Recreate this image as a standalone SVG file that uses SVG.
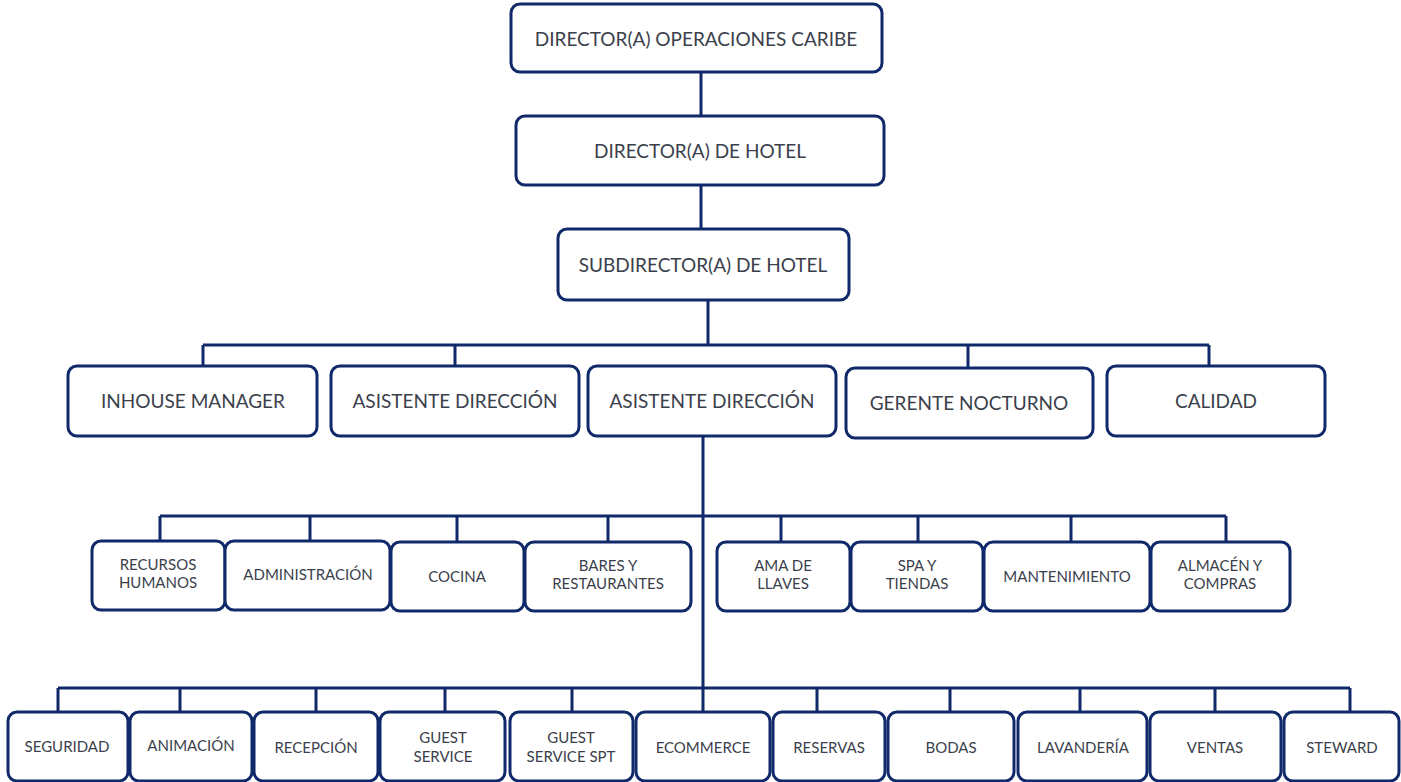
<svg xmlns="http://www.w3.org/2000/svg" width="1401" height="782" viewBox="0 0 1401 782">
<style>
.b{fill:#fff;stroke:#10296a;stroke-width:3}
.c{fill:none;stroke:#10296a;stroke-width:3}
text{font-family:"Lato","Liberation Sans",sans-serif;fill:#3b3f4c;text-anchor:middle}
.t1{font-size:19px}
.t2{font-size:15px}
</style>
<rect width="1401" height="782" fill="#fff"/>
<g id="connectors">
<path class="c" d="M701 72V116M701 185V229M708 300V345M203 345H1209M203 345V366M455 345V366M968 345V368M1209 345V352M1209 345V366"/>
<path class="c" d="M703 436V688M160 516H1226M160 516V541M310 516V541M457 516V541M608 516V541M781 516V541M918 516V541M1071 516V541M1226 516V541"/>
<path class="c" d="M58 688H1350M58 688V712M180 688V712M316 688V712M445 688V712M572 688V712M703 688V712M817 688V712M950 688V712M1080 688V712M1215 688V712M1350 688V712"/>
</g>
<g id="n1"><rect class="b" x="511" y="4" width="371" height="68" rx="9"/><text class="t1" x="696" y="46">DIRECTOR(A) OPERACIONES CARIBE</text></g>
<g id="n2"><rect class="b" x="516" y="116" width="368" height="69" rx="9"/><text class="t1" x="700" y="158">DIRECTOR(A) DE HOTEL</text></g>
<g id="n3"><rect class="b" x="558" y="229" width="291" height="71" rx="9"/><text class="t1" x="703" y="272">SUBDIRECTOR(A) DE HOTEL</text></g>
<g id="n4"><rect class="b" x="68" y="366" width="249" height="70" rx="9"/><text class="t1" x="193" y="408">INHOUSE MANAGER</text></g>
<g id="n5"><rect class="b" x="331" y="366" width="248" height="70" rx="9"/><text class="t1" x="455" y="408">ASISTENTE DIRECCIÓN</text></g>
<g id="n6"><rect class="b" x="588" y="366" width="248" height="70" rx="9"/><text class="t1" x="712" y="408">ASISTENTE DIRECCIÓN</text></g>
<g id="n7"><rect class="b" x="846" y="368" width="247" height="70" rx="9"/><text class="t1" x="969" y="410">GERENTE NOCTURNO</text></g>
<g id="n8"><rect class="b" x="1107" y="366" width="218" height="70" rx="9"/><text class="t1" x="1216" y="408">CALIDAD</text></g>
<g id="n9"><rect class="b" x="92" y="541" width="133" height="69" rx="9"/><text class="t2" x="158" y="570">RECURSOS</text><text class="t2" x="158" y="588">HUMANOS</text></g>
<g id="n10"><rect class="b" x="225" y="541" width="165" height="69" rx="9"/><text class="t2" x="308" y="580">ADMINISTRACIÓN</text></g>
<g id="n11"><rect class="b" x="391" y="542" width="133" height="69" rx="9"/><text class="t2" x="457" y="582">COCINA</text></g>
<g id="n12"><rect class="b" x="525" y="542" width="166" height="69" rx="9"/><text class="t2" x="608" y="571">BARES Y</text><text class="t2" x="608" y="589">RESTAURANTES</text></g>
<g id="n13"><rect class="b" x="717" y="542" width="133" height="69" rx="9"/><text class="t2" x="783" y="571">AMA DE</text><text class="t2" x="783" y="589">LLAVES</text></g>
<g id="n14"><rect class="b" x="851" y="542" width="132" height="69" rx="9"/><text class="t2" x="917" y="571">SPA Y</text><text class="t2" x="917" y="589">TIENDAS</text></g>
<g id="n15"><rect class="b" x="984" y="542" width="166" height="69" rx="9"/><text class="t2" x="1067" y="582">MANTENIMIENTO</text></g>
<g id="n16"><rect class="b" x="1151" y="542" width="139" height="69" rx="9"/><text class="t2" x="1220" y="571">ALMACÉN Y</text><text class="t2" x="1220" y="589">COMPRAS</text></g>
<g id="n17"><rect class="b" x="8" y="712" width="120" height="69" rx="9"/><text class="t2" x="67" y="752">SEGURIDAD</text></g>
<g id="n18"><rect class="b" x="130" y="712" width="122" height="69" rx="9"/><text class="t2" x="191" y="751">ANIMACIÓN</text></g>
<g id="n19"><rect class="b" x="254" y="712" width="124" height="69" rx="9"/><text class="t2" x="316" y="753">RECEPCIÓN</text></g>
<g id="n20"><rect class="b" x="380" y="712" width="125" height="69" rx="9"/><text class="t2" x="443" y="743">GUEST</text><text class="t2" x="443" y="762">SERVICE</text></g>
<g id="n21"><rect class="b" x="510" y="712" width="123" height="69" rx="9"/><text class="t2" x="571" y="743">GUEST</text><text class="t2" x="571" y="762">SERVICE SPT</text></g>
<g id="n22"><rect class="b" x="636" y="712" width="134" height="69" rx="9"/><text class="t2" x="703" y="753">ECOMMERCE</text></g>
<g id="n23"><rect class="b" x="773" y="712" width="112" height="69" rx="9"/><text class="t2" x="829" y="753">RESERVAS</text></g>
<g id="n24"><rect class="b" x="888" y="712" width="126" height="69" rx="9"/><text class="t2" x="951" y="753">BODAS</text></g>
<g id="n25"><rect class="b" x="1018" y="712" width="129" height="69" rx="9"/><text class="t2" x="1083" y="753">LAVANDERÍA</text></g>
<g id="n26"><rect class="b" x="1150" y="712" width="131" height="69" rx="9"/><text class="t2" x="1215" y="753">VENTAS</text></g>
<g id="n27"><rect class="b" x="1284" y="712" width="115" height="69" rx="9"/><text class="t2" x="1342" y="753">STEWARD</text></g>
</svg>
